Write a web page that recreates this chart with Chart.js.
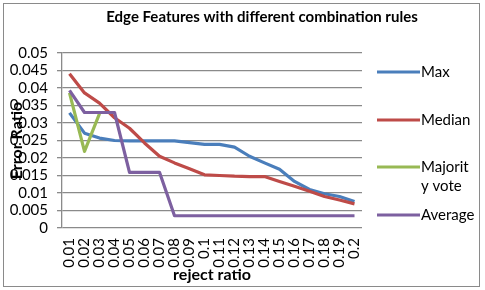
<!DOCTYPE html>
<html>
<head>
<meta charset="utf-8">
<script src="https://cdn.jsdelivr.net/npm/chart.js@4/dist/chart.umd.min.js"></script>
<style>
  body { margin: 0; background: #fff; }
  canvas { display: block; }
</style>
</head>
<body>
<canvas id="chart" width="485" height="290"></canvas>
<script>
// Chart data
const TITLE = 'Edge Features with different combination rules';
const REJECT_RATIOS = ['0.01', '0.02', '0.03', '0.04', '0.05', '0.06', '0.07', '0.08', '0.09', '0.1',
    '0.11', '0.12', '0.13', '0.14', '0.15', '0.16', '0.17', '0.18', '0.19', '0.2'];
const Y_TICKS = [0, 0.005, 0.01, 0.015, 0.02, 0.025, 0.03, 0.035, 0.04, 0.045, 0.05];

const MAX_VALUES = [0.0329, 0.0271, 0.0257, 0.025, 0.0249, 0.0249, 0.0249, 0.0249, 0.0244, 0.0239,
    0.0239, 0.0231, 0.0205, 0.0186, 0.0168, 0.0133, 0.011, 0.0098, 0.009, 0.0076];
const MEDIAN_VALUES = [0.0441, 0.0386, 0.0357, 0.0315, 0.0285, 0.0243, 0.0205, 0.0186, 0.0169, 0.0152,
    0.015, 0.0148, 0.0147, 0.0147, 0.0133, 0.0119, 0.0105, 0.009, 0.008, 0.0069];
const MAJORITY_VALUES = [0.0386, 0.0219, 0.0327, null, null, null, null, null, null, null,
    null, null, null, null, null, null, null, null, null, null];
const AVERAGE_VALUES = [0.0393, 0.033, 0.033, 0.033, 0.0159, 0.0159, 0.0159, 0.0035, 0.0035, 0.0035,
    0.0035, 0.0035, 0.0035, 0.0035, 0.0035, 0.0035, 0.0035, 0.0035, 0.0035, 0.0035];

const SERIES_NAMES = ['Max', 'Median', 'Majority vote', 'Average'];
const LEGEND_LINES = [['Max'], ['Median'], ['Majorit', 'y vote'], ['Average']];
const COLORS = ['#4A7EBB', '#BE4B48', '#98B954', '#7D60A0'];

const FONT = 'Lato, "Open Sans", sans-serif';
const GRID = '#8a8a8a';

function makeSet(i, values) {
    return {
        label: SERIES_NAMES[i],
        data: values,
        borderColor: COLORS[i],
        backgroundColor: COLORS[i],
        borderWidth: 3.2,
        pointRadius: 0,
        tension: 0,
        spanGaps: false,
        borderJoinStyle: 'round',
        order: 3 - i // later series drawn on top, like the original
    };
}

// Frame, title and right hand legend
const decorations = {
    id: 'decorations',
    afterDraw(chart) {
        const ctx = chart.ctx;
        ctx.save();
        ctx.strokeStyle = GRID;
        ctx.lineWidth = 1;
        ctx.strokeRect(3.5, 3.5, 476, 283);

        ctx.fillStyle = '#000';
        ctx.font = 'bold 15px ' + FONT;
        ctx.textAlign = 'center';
        ctx.textBaseline = 'middle';
        ctx.fillText(TITLE, 262, 17);

        const rows = [72, 120, 167, 215];
        ctx.font = '15px ' + FONT;
        ctx.textAlign = 'left';
        rows.forEach((y, i) => {
            ctx.strokeStyle = COLORS[i];
            ctx.lineWidth = 3.2;
            ctx.beginPath();
            ctx.moveTo(377, y);
            ctx.lineTo(420, y);
            ctx.stroke();
            LEGEND_LINES[i].forEach((txt, k) => {
                ctx.fillText(txt, 421, y + k * 19.5);
            });
        });
        ctx.restore();
    }
};

new Chart(document.getElementById('chart'), {
    type: 'line',
    data: {
        labels: REJECT_RATIOS,
        datasets: [
            makeSet(0, MAX_VALUES),
            makeSet(1, MEDIAN_VALUES),
            makeSet(2, MAJORITY_VALUES),
            makeSet(3, AVERAGE_VALUES)
        ]
    },
    options: {
        responsive: false,
        animation: false,
        layout: { padding: { top: 53, right: 123, bottom: 0, left: 0 } },
        plugins: {
            legend: { display: false },
            title: { display: false },
            tooltip: { enabled: false }
        },
        scales: {
            x: {
                offset: true,
                grid: { display: false, drawTicks: false },
                border: { display: false },
                ticks: {
                    color: '#000',
                    font: { family: FONT, size: 15 },
                    minRotation: 90,
                    maxRotation: 90,
                    autoSkip: false,
                    padding: 10
                },
                title: {
                    display: true,
                    text: 'reject ratio',
                    color: '#000',
                    font: { family: FONT, size: 16, weight: 'bold' },
                    padding: { top: 6, bottom: 6 }
                },
                afterFit(scale) { scale.height = 62; }
            },
            y: {
                min: 0,
                max: 0.05,
                afterBuildTicks(scale) {
                    scale.ticks = Y_TICKS.map(v => ({ value: v }));
                },
                grid: {
                    color: GRID,
                    lineWidth: 1.3,
                    tickLength: 5,
                    tickColor: GRID
                },
                border: { display: true, color: GRID, width: 1.3 },
                ticks: {
                    color: '#000',
                    font: { family: FONT, size: 15 },
                    padding: 9,
                    autoSkip: false,
                    callback: v => String(parseFloat(v.toFixed(3)))
                },
                title: {
                    display: true,
                    text: 'Error Ratio',
                    color: '#000',
                    font: { family: FONT, size: 16, weight: 'bold' },
                    padding: { top: 7, bottom: 7 }
                },
                afterFit(scale) { scale.width = 62; }
            }
        }
    },
    plugins: [decorations]
});
</script>
</body>
</html>
